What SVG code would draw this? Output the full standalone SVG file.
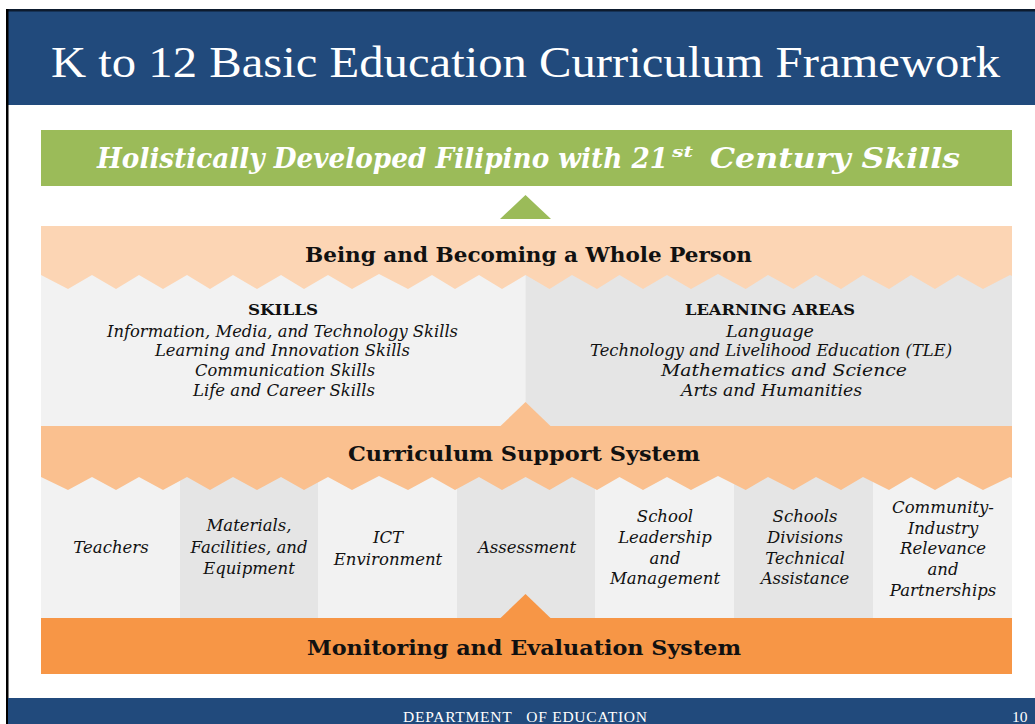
<svg xmlns="http://www.w3.org/2000/svg" width="1035" height="724" viewBox="0 0 1035 724">
<style>
.hdr{fill:#214a7c}
.t{font-family:"DejaVu Serif","Liberation Serif",serif;fill:#111}
.b{font-weight:bold}
.i{font-style:italic}
.w{fill:#ffffff}
.band{font-size:21px;font-weight:bold;text-anchor:middle}
.lab{font-size:16px;font-style:italic;text-anchor:middle}
.col{font-size:16.5px;font-style:italic;text-anchor:middle}
.lt{fill:#f2f2f2}
.dk{fill:#e5e5e5}
</style>
<rect width="1035" height="724" fill="#ffffff"/>
<g id="header">
<rect class="hdr" x="7" y="10" width="1028" height="95"/>
<rect x="6" y="9" width="1029" height="2.5" fill="#0d1b2e"/>
<text x="525.5" y="77" font-family="Liberation Serif, serif" font-size="45" fill="#ffffff" text-anchor="middle" textLength="949" lengthAdjust="spacingAndGlyphs">K to 12 Basic Education Curriculum Framework</text>
</g>
<rect x="6" y="9" width="2.5" height="715" fill="#000000"/>
<g id="goal">
<rect x="41" y="130" width="971" height="56" fill="#9bbb59"/>
<text class="t b i w" x="97" y="168" font-size="27" textLength="571" lengthAdjust="spacingAndGlyphs">Holistically Developed Filipino with 21</text>
<text class="t b i w" x="672" y="157" font-size="15" textLength="21" lengthAdjust="spacingAndGlyphs">st</text>
<text class="t b i w" x="710" y="168" font-size="27" textLength="250" lengthAdjust="spacingAndGlyphs">Century Skills</text>
</g>
<g id="upper-panels">
<rect class="lt" x="41" y="270" width="485" height="156"/>
<rect class="dk" x="525.6" y="270" width="486.4" height="156"/>
</g>
<g id="whole-person">
<polygon fill="#fcd5b4" points="41,226 1012,226 1012,276 1010,275 983,289 958,275 935,289 911,275 889,289 863,275 841,289 816,275 793.5,289 768,275 745.7,289 718,274 691,289 667,275 643,289 619.5,275 597,289 572,275 549.5,289 525.6,275 502,289 479,275 455,289 432,275 408,289 379,274 352,289 328,275 304,289 281,275 257,289 233,275 210,289 187,275 163,289 139,275 116,289 92,275 68,289 41,275"/>
<text class="t band" x="528.5" y="262" textLength="447" lengthAdjust="spacingAndGlyphs">Being and Becoming a Whole Person</text>
</g>
<g id="skills">
<text class="t b" x="283" y="315" font-size="15.5" text-anchor="middle" textLength="70" lengthAdjust="spacingAndGlyphs">SKILLS</text>
<text class="t lab" x="282.5" y="336.7" textLength="351" lengthAdjust="spacingAndGlyphs">Information, Media, and Technology Skills</text>
<text class="t lab" x="282.5" y="356" textLength="255" lengthAdjust="spacingAndGlyphs">Learning and Innovation Skills</text>
<text class="t lab" x="285" y="375.7" textLength="180" lengthAdjust="spacingAndGlyphs">Communication Skills</text>
<text class="t lab" x="284" y="396" textLength="182" lengthAdjust="spacingAndGlyphs">Life and Career Skills</text>
</g>
<g id="learning-areas">
<text class="t b" x="770" y="315" font-size="15.5" text-anchor="middle" textLength="170" lengthAdjust="spacingAndGlyphs">LEARNING AREAS</text>
<text class="t lab" x="770" y="336.7" textLength="88" lengthAdjust="spacingAndGlyphs">Language</text>
<text class="t lab" x="771" y="356" textLength="362" lengthAdjust="spacingAndGlyphs">Technology and Livelihood Education (TLE)</text>
<text class="t lab" x="784" y="375.7" textLength="246" lengthAdjust="spacingAndGlyphs">Mathematics and Science</text>
<text class="t lab" x="771.5" y="396" textLength="181" lengthAdjust="spacingAndGlyphs">Arts and Humanities</text>
</g>
<g id="lower-panels">
<rect class="lt" x="41" y="470" width="139" height="148"/>
<rect class="dk" x="180" y="470" width="138" height="148"/>
<rect class="lt" x="318" y="470" width="139" height="148"/>
<rect class="dk" x="457" y="470" width="138" height="148"/>
<rect class="lt" x="595" y="470" width="139" height="148"/>
<rect class="dk" x="734" y="470" width="139" height="148"/>
<rect class="lt" x="873" y="470" width="139" height="148"/>
</g>
<g id="support-system">
<polygon fill="#fac08f" points="41,426 1012,426 1012,478 1010,477 983,490 958,477 935,490 911,477 889,490 863,477 841,490 816,477 793.5,490 768,477 745.7,490 718,476 691,490 667,477 643,490 619.5,477 597,490 572,477 549.5,490 525.6,477 502,490 479,477 455,490 432,477 408,490 379,476 352,490 328,477 304,490 281,477 257,490 233,477 210,490 187,477 163,490 139,477 116,490 92,477 68,490 41,477"/>
<text class="t band" x="524" y="461" textLength="352" lengthAdjust="spacingAndGlyphs">Curriculum Support System</text>
</g>
<g id="teachers"><text class="t col" x="111" y="553">Teachers</text></g>
<g id="materials">
<text class="t col" x="249" y="531">Materials,</text>
<text class="t col" x="249" y="552.5">Facilities, and</text>
<text class="t col" x="249" y="573.5">Equipment</text>
</g>
<g id="ict"><text class="t col" x="388" y="543">ICT</text><text class="t col" x="388" y="564.5">Environment</text></g>
<g id="assessment"><text class="t col" x="527" y="553">Assessment</text></g>
<g id="leadership">
<text class="t col" x="665" y="522">School</text>
<text class="t col" x="665" y="543">Leadership</text>
<text class="t col" x="665" y="563.5">and</text>
<text class="t col" x="665" y="584">Management</text>
</g>
<g id="sdta">
<text class="t col" x="805" y="522">Schools</text>
<text class="t col" x="805" y="543">Divisions</text>
<text class="t col" x="805" y="563.5">Technical</text>
<text class="t col" x="805" y="584">Assistance</text>
</g>
<g id="community">
<text class="t col" x="943" y="513">Community-</text>
<text class="t col" x="943" y="533.5">Industry</text>
<text class="t col" x="943" y="554">Relevance</text>
<text class="t col" x="943" y="574.5">and</text>
<text class="t col" x="943" y="596">Partnerships</text>
</g>
<g id="monitoring">
<rect x="41" y="618" width="971" height="56" fill="#f79646"/>
<text class="t band" x="524" y="655" textLength="434" lengthAdjust="spacingAndGlyphs">Monitoring and Evaluation System</text>
</g>
<g id="connectors">
<polygon fill="#9bbb59" points="500,219 525.5,195 551,219"/>
<polygon fill="#fac08f" points="500,426.5 525.5,402 551,426.5"/>
<polygon fill="#f79646" points="500,618.5 525.5,594 551,618.5"/>
</g>
<g id="footer">
<rect class="hdr" x="8" y="698" width="1027" height="26"/>
<text x="525" y="722" font-family="Liberation Serif, serif" font-size="15.5" fill="#ffffff" text-anchor="middle" textLength="244" lengthAdjust="spacing" xml:space="preserve">DEPARTMENT   OF EDUCATION</text>
<text x="1012" y="722" font-family="Liberation Serif, serif" font-size="15.5" fill="#ffffff">10</text>
</g>
</svg>
